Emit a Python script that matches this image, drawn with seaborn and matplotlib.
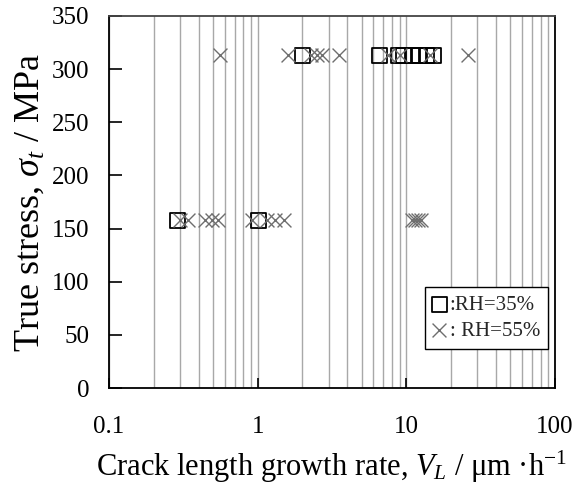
import matplotlib
matplotlib.use("Agg")
import matplotlib.pyplot as plt
import numpy as np
import pandas as pd
import seaborn as sns
from matplotlib.ticker import LogLocator, FixedLocator, NullFormatter, FuncFormatter

# Crack length growth rate (um/h) at each true stress level
rh35_rate = [0.29, 1.01, 2.0, 6.6, 8.8, 9.6, 11.0, 12.3, 13.6, 15.2]
rh35_stress = [158, 158, 313, 313, 313, 313, 313, 313, 313, 313]

rh55_rate = [0.30, 0.34, 0.44, 0.49, 0.54, 0.91, 1.15, 1.3, 1.5,
             11.0, 11.5, 12.0, 12.5,
             0.56, 1.6, 2.3, 2.5, 2.7, 3.5, 7.5, 9.1, 14.5, 26.0]
rh55_stress = [158] * 13 + [313] * 10

x_ticks = [0.1, 1, 10, 100]
x_ticklabels = ["0.1", "1", "10", "100"]
y_ticks = [0, 50, 100, 150, 200, 250, 300, 350]

sns.set_theme(style="white")
plt.rcParams["font.family"] = ["Liberation Serif", "DejaVu Serif"]
plt.rcParams["mathtext.fontset"] = "custom"
plt.rcParams["mathtext.rm"] = "Liberation Serif"
plt.rcParams["mathtext.it"] = "Liberation Serif:italic"

df35 = pd.DataFrame({"rate": rh35_rate, "stress": rh35_stress})
df55 = pd.DataFrame({"rate": rh55_rate, "stress": rh55_stress})

fig = plt.figure(figsize=(5.75, 4.86), dpi=100)
ax = fig.add_axes([109 / 575, 1 - 388 / 486, 446 / 575, 372 / 486])

ax.set_xscale("log")
ax.set_xlim(0.1, 100)
ax.set_ylim(0, 350)

# vertical log grid at every major and minor position
ax.xaxis.set_minor_locator(LogLocator(base=10, subs=np.arange(2, 10)))
ax.grid(True, axis="x", which="both", color="#a8a8a8", linewidth=1.0)
ax.grid(False, axis="y")
ax.set_axisbelow(True)

sns.scatterplot(data=df35, x="rate", y="stress", ax=ax, marker="s", s=115,
                facecolor="none", edgecolor="black", linewidth=1.3,
                label=":RH=35%", zorder=3)
sns.scatterplot(data=df55, x="rate", y="stress", ax=ax, marker="x", s=100,
                color="#6e6e6e", linewidth=1.0, label=": RH=55%", zorder=4)

ax.xaxis.set_major_locator(FixedLocator(x_ticks))
ax.xaxis.set_major_formatter(FuncFormatter(lambda v, p: x_ticklabels[x_ticks.index(v)] if v in x_ticks else ""))
ax.xaxis.set_minor_formatter(NullFormatter())
ax.set_yticks(y_ticks)

ax.tick_params(axis="x", which="major", direction="in", length=7, width=1.2,
               bottom=True, top=False, pad=20, labelsize=18, colors="black")
ax.tick_params(axis="x", which="minor", length=0)
ax.tick_params(axis="y", which="major", direction="in", length=9, width=1.2,
               left=True, right=False, pad=14, labelsize=18, colors="black")

for side in ["left", "bottom", "top", "right"]:
    ax.spines[side].set_visible(True)
    ax.spines[side].set_color("black")
    ax.spines[side].set_linewidth(1.3)
ax.spines["top"].set_color("#444444")

ax.set_xlabel(r"Crack length growth rate, $V_L$ / μm ·h$^{\mathregular{-1}}$",
              fontsize=22, labelpad=8, color="black")
ax.set_ylabel(r"True stress, $\sigma_t$ / MPa", fontsize=26, labelpad=4, color="black")

leg = ax.legend(loc="lower right", bbox_to_anchor=(0.985, 0.105), fontsize=15,
                frameon=True, fancybox=False, edgecolor="black", framealpha=1,
                handlelength=0.6, handletextpad=0.2, borderpad=0.4,
                labelspacing=0.3, borderaxespad=0)
leg.get_frame().set_linewidth(1.0)

fig.savefig("out.png", dpi=100)
